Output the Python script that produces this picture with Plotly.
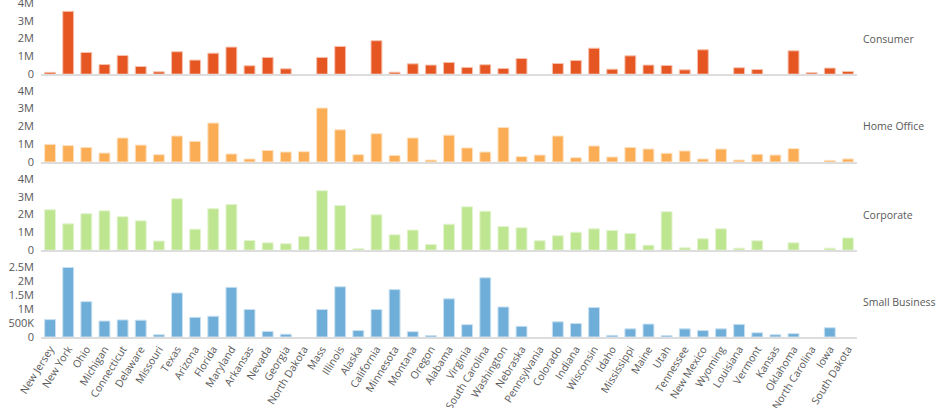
import plotly.graph_objects as go
from plotly.subplots import make_subplots

states = ['New Jersey', 'New York', 'Ohio', 'Michigan', 'Connecticut', 'Delaware', 'Missouri',
          'Texas', 'Arizona', 'Florida', 'Maryland', 'Arkansas', 'Nevada', 'Georgia',
          'North Dakota', 'Mass', 'Illinois', 'Alaska', 'California', 'Minnesota', 'Montana',
          'Oregon', 'Alabama', 'Virginia', 'South Carolina', 'Washington', 'Nebraska',
          'Pennsylvania', 'Colorado', 'Indiana', 'Wisconsin', 'Idaho', 'Mississippi', 'Maine',
          'Utah', 'Tennessee', 'New Mexico', 'Wyoming', 'Louisiana', 'Vermont', 'Kansas',
          'Oklahoma', 'North Carolina', 'Iowa', 'South Dakota']

# sales in millions
consumer = [0.10, 3.53, 1.22, 0.54, 1.05, 0.43, 0.13, 1.26, 0.79, 1.18, 1.52, 0.47, 0.94, 0.30,
            0.0, 0.94, 1.56, 0.0, 1.88, 0.11, 0.58, 0.51, 0.66, 0.38, 0.53, 0.32, 0.88,
            0.0, 0.60, 0.77, 1.46, 0.28, 1.03, 0.51, 0.49, 0.24, 1.37, 0.0, 0.36, 0.26, 0.0,
            1.31, 0.08, 0.34, 0.15]
home_office = [0.99, 0.92, 0.82, 0.50, 1.35, 0.95, 0.41, 1.46, 1.16, 2.19, 0.45, 0.17, 0.65, 0.56,
               0.58, 3.03, 1.81, 0.41, 1.59, 0.37, 1.35, 0.11, 1.51, 0.79, 0.56, 1.94, 0.30,
               0.39, 1.46, 0.24, 0.90, 0.28, 0.82, 0.73, 0.49, 0.62, 0.17, 0.73, 0.11, 0.43, 0.39,
               0.75, 0.0, 0.09, 0.17]
corporate = [2.27, 1.48, 2.05, 2.21, 1.88, 1.65, 0.51, 2.89, 1.18, 2.33, 2.57, 0.54, 0.41, 0.36,
             0.77, 3.34, 2.51, 0.08, 1.99, 0.86, 1.13, 0.32, 1.46, 2.44, 2.19, 1.33, 1.26,
             0.53, 0.81, 1.01, 1.20, 1.11, 0.94, 0.28, 2.16, 0.13, 0.64, 1.20, 0.11, 0.53, 0.0,
             0.41, 0.0, 0.11, 0.69]
small_business = [0.62, 2.48, 1.26, 0.57, 0.61, 0.60, 0.08, 1.57, 0.70, 0.74, 1.77, 0.98, 0.20, 0.10,
                  0.0, 0.98, 1.79, 0.23, 0.98, 1.69, 0.19, 0.05, 1.36, 0.44, 2.11, 1.07, 0.38,
                  0.0, 0.54, 0.48, 1.05, 0.06, 0.29, 0.46, 0.05, 0.29, 0.23, 0.29, 0.45, 0.15, 0.08,
                  0.12, 0.0, 0.33, 0.0]

segments = ['Consumer', 'Home Office', 'Corporate', 'Small Business']
series = [consumer, home_office, corporate, small_business]
colors = ['#E55623', '#FBAD56', '#BEE590', '#6FAED8']
edge_colors = ['#F6C2AE', '#FDE1C0', '#E3F4D0', '#C8E0F1']

big_ticks = [0, 1e6, 2e6, 3e6, 4e6]
big_text = ['0', '1M', '2M', '3M', '4M']
small_ticks = [0, 5e5, 1e6, 1.5e6, 2e6, 2.5e6]
small_text = ['0', '500K', '1M', '1.5M', '2M', '2.5M']

fig = make_subplots(rows=4, cols=1, shared_xaxes=True)

for i, (name, vals) in enumerate(zip(segments, series)):
    # empty states get no bar at all (a zero-height bar would still draw its edge)
    fig.add_trace(go.Bar(
        x=states,
        y=[v * 1e6 if v > 0 else None for v in vals],
        name=name,
        marker=dict(color=colors[i], line=dict(color=edge_colors[i], width=1)),
        showlegend=False,
    ), row=i + 1, col=1)

# row domains in paper coords (top row first)
domains = [[0.787, 1.0], [0.524, 0.737], [0.26, 0.473], [0.0, 0.21]]
font_grey = '#595959'

for i in range(4):
    r = i + 1
    fig.update_yaxes(
        domain=domains[i],
        range=[0, 2.5e6] if i == 3 else [0, 4e6],
        tickvals=small_ticks if i == 3 else big_ticks,
        ticktext=small_text if i == 3 else big_text,
        showgrid=False, zeroline=False, showline=False,
        ticks='', ticklabelstandoff=6, automargin=False,
        ticklabeloverflow='allow',
        tickfont=dict(size=11, color=font_grey),
        row=r, col=1,
    )
    fig.update_xaxes(
        showgrid=False, showline=True, linecolor='#DDDDDD', linewidth=2,
        ticks='', showticklabels=(i == 3), automargin=False,
        tickangle=-58, tickfont=dict(size=10.5, color=font_grey),
        row=r, col=1,
    )
    fig.add_annotation(
        text=segments[i], xref='paper', yref='paper',
        x=1.005, y=(domains[i][0] + domains[i][1]) / 2,
        xanchor='left', yanchor='middle', showarrow=False,
        font=dict(size=10.5, color=font_grey),
    )

fig.update_layout(
    width=936, height=408,
    margin=dict(l=41, r=79, t=3, b=71),
    bargap=0.4,
    plot_bgcolor='white', paper_bgcolor='white',
    font=dict(family='Open Sans', size=11, color=font_grey),
)

# drop the default 8px page margin so the figure sits flush in the window
fig.write_html("out.html", config={'displayModeBar': False},
               post_script="document.body.style.margin='0';")
